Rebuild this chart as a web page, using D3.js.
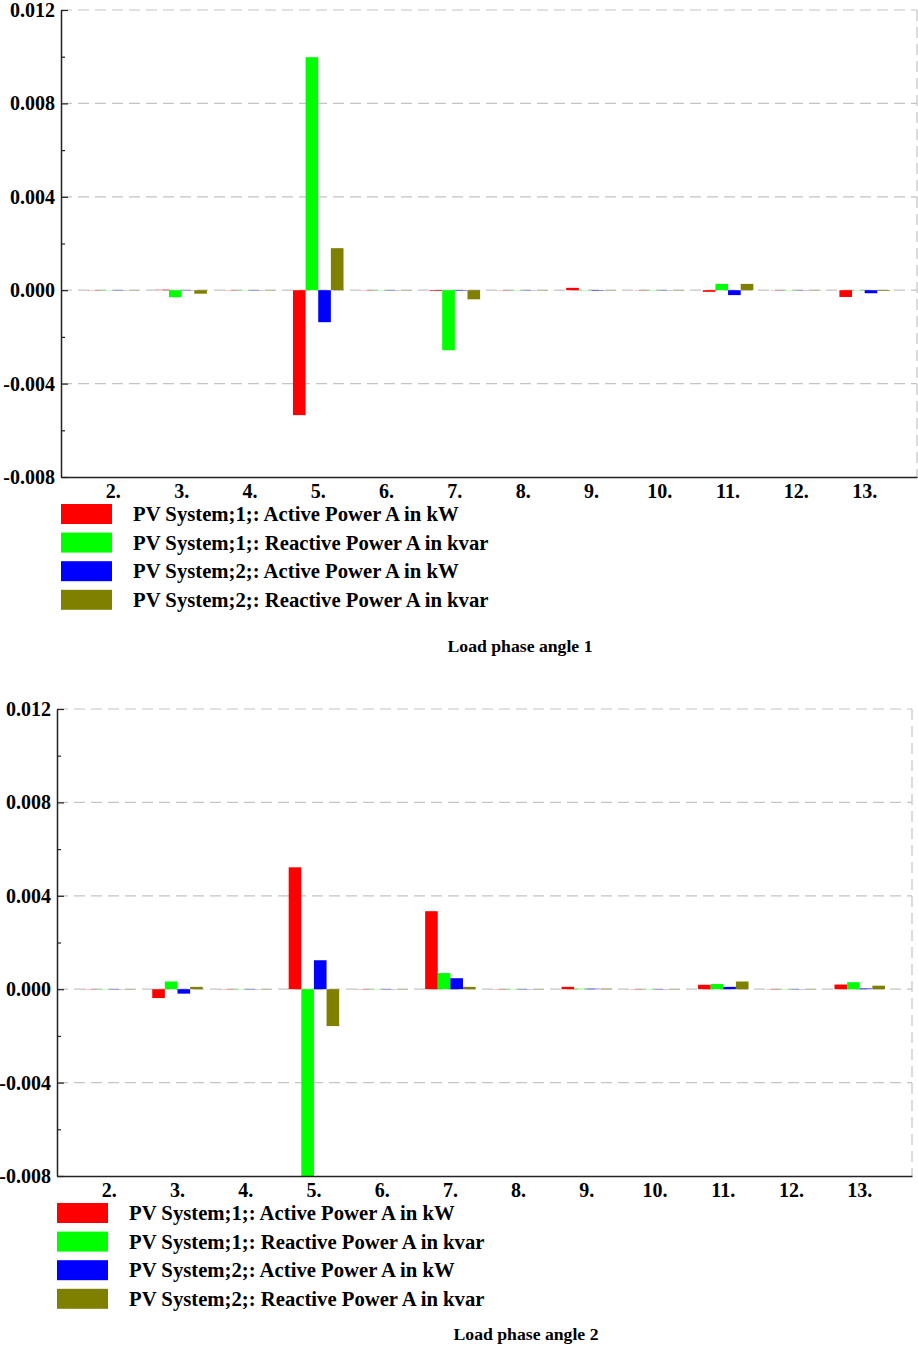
<!DOCTYPE html>
<html>
<head>
<meta charset="utf-8">
<script src="https://d3js.org/d3.v7.min.js"></script>
<style>
  * { margin:0; padding:0; box-sizing:border-box; }
  body { background:#fff; width:918px; height:1347px; overflow:hidden; }
  svg { display:block; font-family:"Liberation Serif","Times New Roman",serif; font-weight:bold; }
</style>
</head>
<body>
<svg id="chart" width="918" height="1347"></svg>
<script>
// ── Data ─────────────────────────────────────────────────────────────────────
var categories  = ["2.", "3.", "4.", "5.", "6.", "7.", "8.", "9.", "10.", "11.", "12.", "13."];
var seriesNames = [
  "PV System;1;: Active Power A in kW",
  "PV System;1;: Reactive Power A in kvar",
  "PV System;2;: Active Power A in kW",
  "PV System;2;: Reactive Power A in kvar"
];
var seriesColors = ["#ff0000", "#00ff00", "#0000ff", "#808000"];
var yTicksMajor  = [-0.008, -0.004, 0.000, 0.004, 0.008, 0.012];
var yTicksMinor  = [-0.006, -0.002, 0.002, 0.006, 0.010];

// Load phase angle 1
var a1_pv1Active   = [-0.00001, 0.00002, -0.00001, -0.00535, -0.00001, -0.00003, -0.00001, 0.00010, -0.00001, -0.00007, -0.00001, -0.00029];
var a1_pv1Reactive = [-0.00001, -0.00030, 0.00001, 0.00998, -0.00001, -0.00257, -0.00001, 0.00001, -0.00001, 0.00027, -0.00001, -0.00001];
var a1_pv2Active   = [-0.00001, -0.00001, -0.00001, -0.00137, -0.00001, -0.00002, -0.00001, -0.00002, -0.00001, -0.00021, -0.00001, -0.00013];
var a1_pv2Reactive = [-0.00001, -0.00015, -0.00001, 0.00180, -0.00001, -0.00039, -0.00001, -0.00001, -0.00001, 0.00027, -0.00001, -0.00003];

// Load phase angle 2
var a2_pv1Active   = [-0.00001, -0.00038, -0.00001, 0.00522, -0.00001, 0.00334, -0.00001, 0.00010, -0.00001, 0.00019, -0.00001, 0.00020];
var a2_pv1Reactive = [-0.00001, 0.00033, -0.00001, -0.00950, -0.00001, 0.00069, -0.00001, 0.00002, -0.00001, 0.00022, -0.00001, 0.00030];
var a2_pv2Active   = [-0.00001, -0.00019, -0.00001, 0.00124, -0.00001, 0.00047, -0.00001, 0.00002, -0.00001, 0.00010, -0.00001, 0.00003];
var a2_pv2Reactive = [-0.00001, 0.00010, -0.00001, -0.00158, -0.00001, 0.00010, -0.00001, 0.00002, -0.00001, 0.00033, -0.00001, 0.00015];

var panels = [
  { id: "p1", title: "Load phase angle 1", series: [a1_pv1Active, a1_pv1Reactive, a1_pv2Active, a1_pv2Reactive],
    left: 61, right: 917, top: 10, bottom: 477, legendX: 61, legendY: 514, titleX: 520, titleY: 652 },
  { id: "p2", title: "Load phase angle 2", series: [a2_pv1Active, a2_pv1Reactive, a2_pv2Active, a2_pv2Reactive],
    left: 57, right: 912, top: 709, bottom: 1176, legendX: 57, legendY: 1213, titleX: 526, titleY: 1340 }
];

var svg = d3.select("#chart");
var fmt = d3.format(".3f");
function tickFmt(d) { return fmt(d).replace("\u2212", "-"); }

// ── Draw one panel ───────────────────────────────────────────────────────────
function drawPanel(p) {
  var g = svg.append("g");

  var x = d3.scaleBand().domain(categories).range([p.left, p.right])
    .paddingInner(0).paddingOuter(0.266);
  var x1 = d3.scaleBand().domain(d3.range(seriesNames.length))
    .range([x.bandwidth() * 0.13, x.bandwidth() * 0.87]);
  var y = d3.scaleLinear().domain([-0.008, 0.012]).range([p.bottom, p.top]);

  // dashed grid + right border
  g.selectAll(".grid").data(yTicksMajor.slice(1)).join("line")
    .attr("x1", p.left).attr("x2", p.right)
    .attr("y1", function(d) { return y(d); }).attr("y2", function(d) { return y(d); })
    .attr("stroke", "#c4c4c4").attr("stroke-width", 1.2).attr("stroke-dasharray", "11,6");
  g.append("line")
    .attr("x1", p.right).attr("x2", p.right).attr("y1", p.top).attr("y2", p.bottom)
    .attr("stroke", "#c4c4c4").attr("stroke-width", 1.2).attr("stroke-dasharray", "11,6");

  // bars, clipped to the plot area
  g.append("clipPath").attr("id", "clip-" + p.id).append("rect")
    .attr("x", p.left).attr("y", p.top).attr("width", p.right - p.left).attr("height", p.bottom - p.top);

  var rows = [];
  p.series.forEach(function(vals, si) {
    vals.forEach(function(v, ci) { rows.push({ cat: categories[ci], s: si, v: v }); });
  });

  g.append("g").attr("clip-path", "url(#clip-" + p.id + ")")
    .selectAll("rect").data(rows).join("rect")
    .attr("x", function(d) { return x(d.cat) + x1(d.s); })
    .attr("width", x1.bandwidth())
    .attr("y", function(d) { return Math.min(y(d.v), y(0)); })
    .attr("height", function(d) { return Math.abs(y(d.v) - y(0)); })
    .attr("fill", function(d) { return seriesColors[d.s]; });

  // y axis (inward ticks)
  var yAxis = g.append("g").attr("transform", "translate(" + p.left + ",0)")
    .call(d3.axisLeft(y).tickValues(yTicksMajor).tickFormat(tickFmt)
      .tickSize(-7).tickSizeOuter(0).tickPadding(6));
  yAxis.select(".domain").attr("stroke", "#222").attr("stroke-width", 1.5);
  yAxis.selectAll(".tick line").attr("stroke", "#222").attr("stroke-width", 1.2);
  yAxis.selectAll("text").attr("font-size", 20).attr("fill", "#000")
    .attr("font-family", "Liberation Serif").attr("font-weight", "bold");

  var yMinor = g.append("g").attr("transform", "translate(" + p.left + ",0)")
    .call(d3.axisLeft(y).tickValues(yTicksMinor).tickFormat("").tickSize(-4).tickSizeOuter(0));
  yMinor.select(".domain").remove();
  yMinor.selectAll(".tick line").attr("stroke", "#222").attr("stroke-width", 1.2);

  // x axis
  var xAxis = g.append("g").attr("transform", "translate(0," + p.bottom + ")")
    .call(d3.axisBottom(x).tickSize(0).tickSizeOuter(0).tickPadding(7));
  xAxis.select(".domain").attr("stroke", "#222").attr("stroke-width", 1.5);
  xAxis.selectAll("text").attr("font-size", 20).attr("fill", "#000")
    .attr("font-family", "Liberation Serif").attr("font-weight", "bold");

  // legend
  var leg = g.append("g");
  seriesNames.forEach(function(name, i) {
    var cy = p.legendY + i * 28.6;
    leg.append("rect").attr("x", p.legendX).attr("y", cy - 10)
      .attr("width", 51).attr("height", 20).attr("fill", seriesColors[i]);
    leg.append("text").attr("x", p.legendX + 72).attr("y", cy + 7)
      .attr("font-size", 20.7).attr("fill", "#000").text(name);
  });

  // title
  g.append("text").attr("x", p.titleX).attr("y", p.titleY)
    .attr("text-anchor", "middle").attr("font-size", 17.7).attr("fill", "#000").text(p.title);
}

panels.forEach(drawPanel);
</script>
</body>
</html>
